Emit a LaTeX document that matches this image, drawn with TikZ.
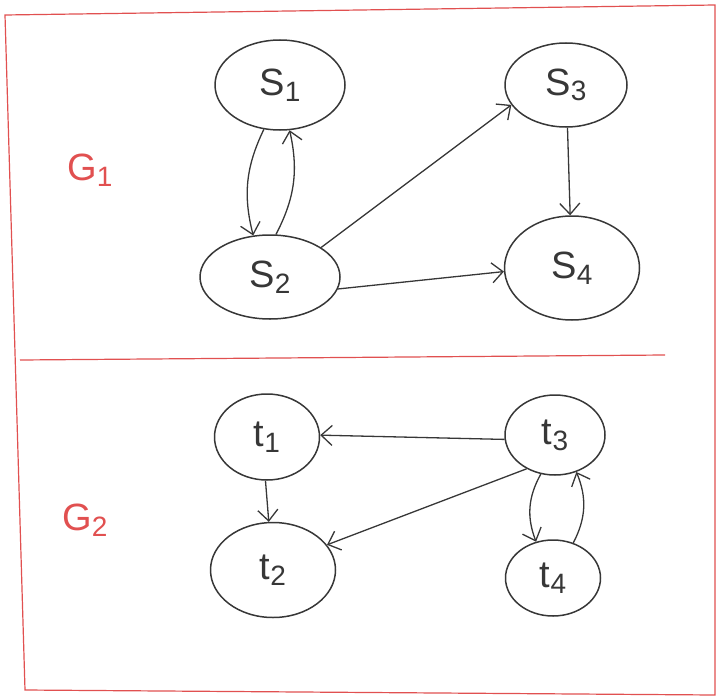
\documentclass[tikz,border=0pt]{standalone}
\usepackage{fontspec}
\setmainfont{Liberation Sans}
\usetikzlibrary{shapes.geometric,arrows.meta}
\definecolor{pen}{RGB}{55,55,55}
\definecolor{redpen}{RGB}{225,80,80}
\tikzset{
  st/.style={ellipse,draw=pen,line width=1.5pt,minimum width=#1,inner sep=0pt,font=\fontsize{38}{40}\selectfont,text=pen},
  edge/.style={draw=pen,line width=1.3pt,-{Straight Barb[length=11pt,width=20pt]}},
  glabel/.style={text=redpen,font=\fontsize{38}{40}\selectfont}
}
\newcommand{\sub}[1]{\raisebox{-0.15em}{\fontsize{28}{30}\selectfont #1}}
\begin{document}
\begin{tikzpicture}[x=1pt,y=-1pt]
\useasboundingbox (0,0) rectangle (719,698);
\draw[redpen,line width=1.2pt] (5,15) -- (715,5) -- (715,695) -- (25,690) -- cycle;
\draw[redpen,line width=1.2pt] (20,360) -- (665,355);
\node[glabel] (g1) at (90,170) {G\sub{1}};
\node[glabel] (g2) at (85,520) {G\sub{2}};
% G1
\node[st=130pt,minimum height=90pt] (s1) at (280,85) {S\sub{1}};
\node[st=140pt,minimum height=84pt] (s2) at (270,277) {S\sub{2}};
\node[st=122pt,minimum height=84pt] (s3) at (566,85) {S\sub{3}};
\node[st=135pt,minimum height=104pt] (s4) at (572,268) {S\sub{4}};
% G2
\node[st=105pt,minimum height=86pt] (t1) at (267,437) {t\sub{1}};
\node[st=125pt,minimum height=95pt] (t2) at (273,570) {t\sub{2}};
\node[st=100pt,minimum height=80pt] (t3) at (555,435) {t\sub{3}};
\node[st=95pt,minimum height=76pt] (t4) at (553,578) {t\sub{4}};
% edges G1
\draw[edge] (s1.250) to[bend right=20] (s2.112);
\draw[edge] (s2.82) to[bend right=20] (s1.282);
\draw[edge] (s2.30) -- (s3.200);
\draw[edge] (s3.272) -- (s4.92);
\draw[edge] (s2.-10) -- (s4.183);
% edges G2
\draw[edge] (t3.185) -- (t1.2);
\draw[edge] (t1.268) -- (t2.95);
\draw[edge] (t3.230) -- (t2.25);
\draw[edge] (t3.250) to[bend right=25] (t4.115);
\draw[edge] (t4.60) to[bend right=25] (t3.300);
\end{tikzpicture}
\end{document}
